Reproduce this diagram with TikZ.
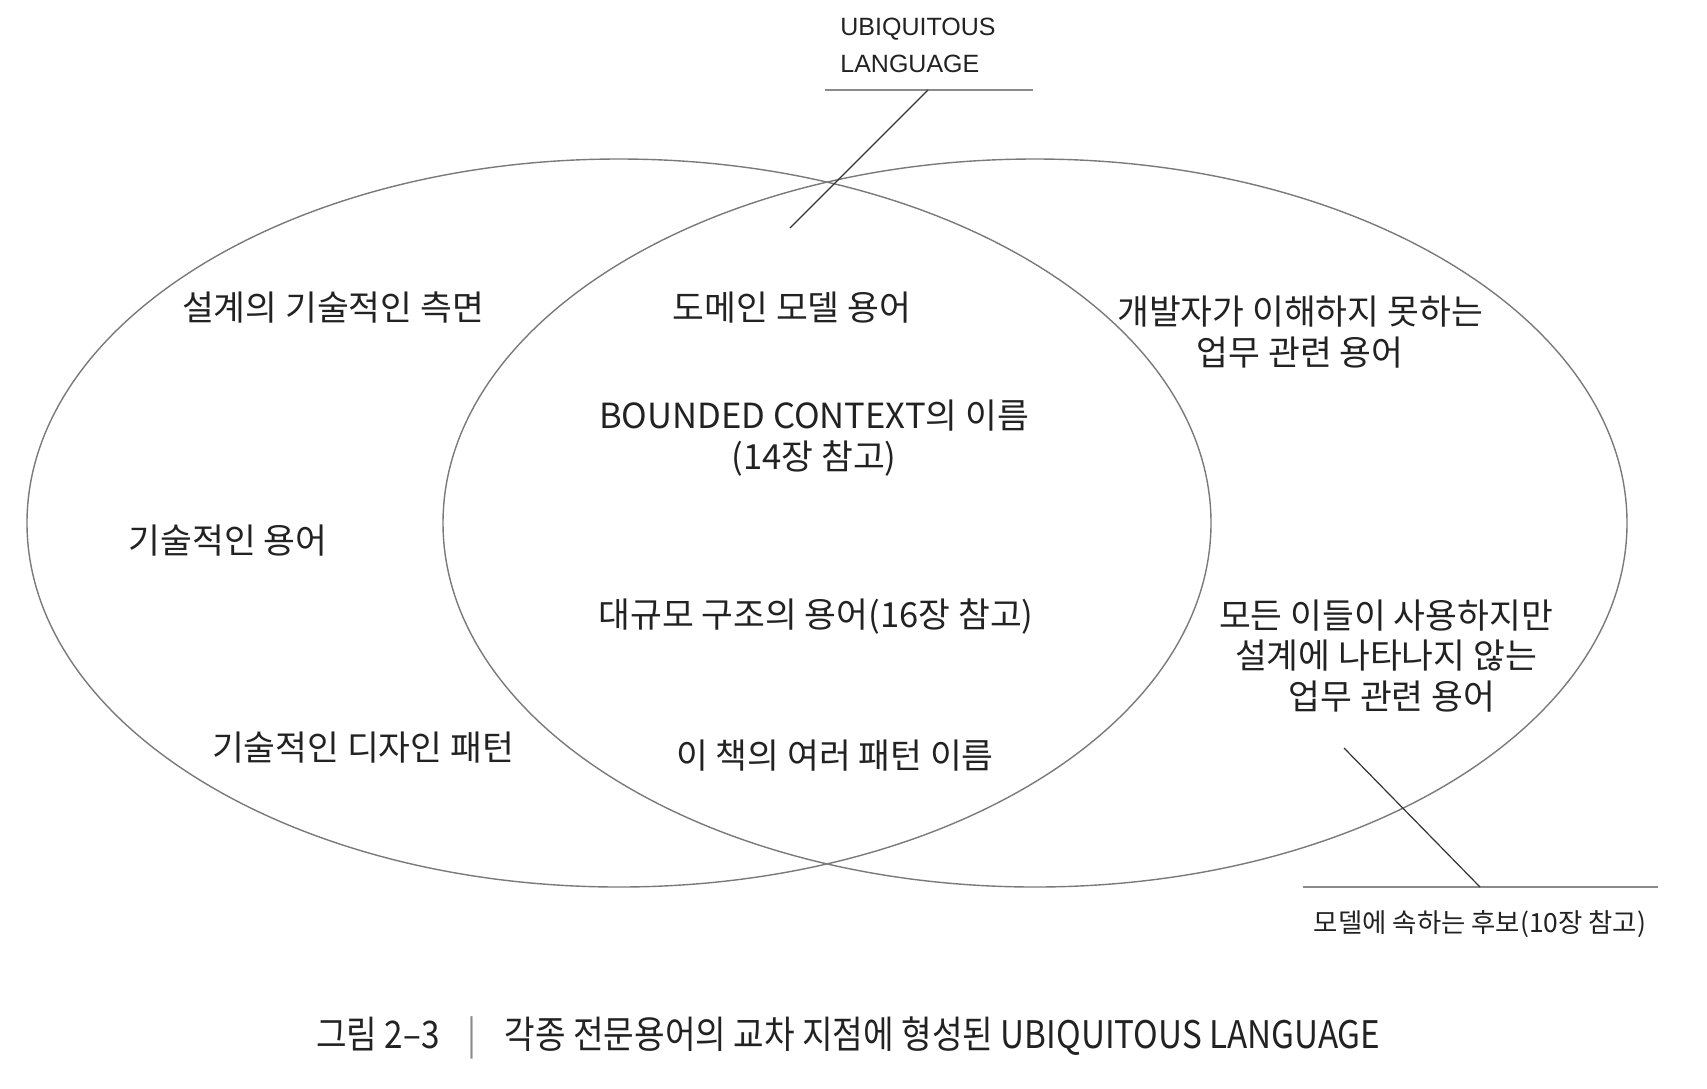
\documentclass[tikz,border=0pt]{standalone}
\usepackage{fontspec}
\setmainfont{Noto Sans CJK KR}
\newfontfamily\capfont[FakeStretch=0.875]{Noto Sans CJK KR}
\newfontfamily\latfont{Liberation Sans}
\definecolor{txt}{HTML}{222222}
\definecolor{ring}{HTML}{7A7A7A}
\definecolor{lead}{HTML}{333333}
\definecolor{rule}{HTML}{8A8A8A}
\begin{document}
\begin{tikzpicture}[x=0.5pt,y=-0.5pt,
  lbl/.style={text=txt,inner sep=0pt,align=center,font=\fontsize{17.3}{20.25}\selectfont},
  small/.style={text=txt,inner sep=0pt,align=center,font=\fontsize{13.2}{15}\selectfont},
  ringline/.style={draw=ring,line width=0.7pt},
  leader/.style={draw=lead,line width=0.6pt},
  rulel/.style={draw=rule,line width=0.9pt}]
\useasboundingbox[fill=white] (0,0) rectangle (1707,1088);
% ellipses
\draw[ringline] (619,523) ellipse [x radius=296pt, y radius=182pt];
\draw[ringline] (1035,523) ellipse [x radius=296pt, y radius=182pt];
% UBIQUITOUS LANGUAGE label
\node[text=txt,inner sep=0pt,anchor=west,align=left,font=\latfont\fontsize{12.5}{18.5}\selectfont] (ul) at (840,45) {UBIQUITOUS\\LANGUAGE};
\coordinate (ulL) at (825,90);
\coordinate (ulR) at (1033,90);
\coordinate (ulJ) at (928,90);
\coordinate (ulE) at (790,228);
\draw[rulel] (ulL) -- (ulR);
\draw[leader] (ulJ) -- (ulE);
% candidate label
\coordinate (cL) at (1303,887);
\coordinate (cR) at (1658,887);
\coordinate (cJ) at (1480,887);
\coordinate (cE) at (1344,748);
\draw[rulel] (cL) -- (cR);
\draw[leader] (cJ) -- (cE);
\node[small] (cand) at (1480,924) {모델에 속하는 후보(10장 참고)};
% left region
\node[lbl] (l1) at (333,308) {설계의 기술적인 측면};
\node[lbl] (l2) at (228,541) {기술적인 용어};
\node[lbl] (l3) at (363,748) {기술적인 디자인 패턴};
% middle region
\node[lbl] (m1) at (792,308) {도메인 모델 용어};
\node[lbl] (m2) at (814,438) {BOUNDED CONTEXT의 이름\\(14장 참고)};
\node[lbl] (m3) at (816,617) {대규모 구조의 용어(16장 참고)};
\node[lbl] (m4) at (835,756) {이 책의 여러 패턴 이름};
% right region
\node[lbl] (r1) at (1300,332) {개발자가 이해하지 못하는\\업무 관련 용어};
\node[lbl] (r2) at (1386,656) {모든 이들이 사용하지만\\설계에 나타나지 않는\\\hspace*{6pt}업무 관련 용어};
% caption
\node[text=txt,inner sep=0pt,anchor=west,font=\capfont\fontsize{19}{22}\selectfont] (cap) at (316,1038)
  {그림 2–3\hspace{14pt}{\color{rule}|}\hspace{14pt}각종 전문용어의 교차 지점에 형성된 UBIQUITOUS LANGUAGE};
\end{tikzpicture}
\end{document}
